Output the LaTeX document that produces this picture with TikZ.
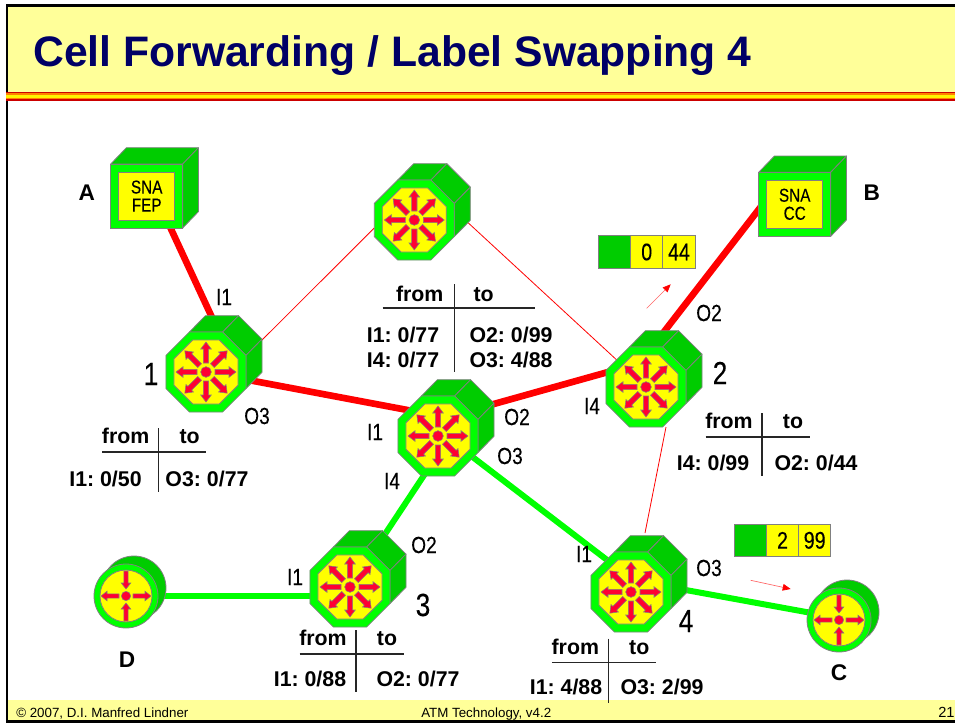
\documentclass[tikz,border=0pt]{standalone}
\usepackage{fontspec}
\setmainfont{Liberation Sans}
\newfontfamily\narrowfont[FakeStretch=0.82,FakeBold=0.15]{Liberation Sans}
\usetikzlibrary{shapes,arrows.meta,positioning,backgrounds}
\frenchspacing

\definecolor{bandyellow}{HTML}{FFFF99}
\definecolor{coreyellow}{HTML}{FFFF00}
\definecolor{titleblue}{HTML}{000066}
\definecolor{ringgreen}{HTML}{00FF00}
\definecolor{bodygreen}{HTML}{00CC00}
\definecolor{edgegray}{HTML}{808080}
\definecolor{spokered}{HTML}{FF0033}
\definecolor{barred}{HTML}{CC0000}
\definecolor{barorange}{HTML}{FF8000}
\definecolor{linkred}{HTML}{FF0000}

% octagon switch: name, x, y
\newcommand{\switchnode}[3]{
  \begin{scope}[shift={(#2,#3)}]
    \draw[face] (-16.6,-40) -- (16.6,-40) -- (32.6,-56.3) -- (-0.6,-56.3) -- cycle;
    \draw[face] (16.6,-40) -- (40,-16.6) -- (56,-32.9) -- (32.6,-56.3) -- cycle;
    \draw[face] (40,-16.6) -- (40,16.6) -- (56,0.3) -- (56,-32.9) -- cycle;
    \node[octring] (#1) at (0,0) {};
    \node[octcore] (#1core) at (0,0) {};
    \foreach \a in {0,45,...,315}
      \draw[spoke, rotate=\a] (9,-2.7) -- (23,-2.7) -- (23,-5.3) -- (30,0) -- (23,5.3) -- (23,2.7) -- (9,2.7) -- cycle;
    \node[hubdot] (#1hub) at (0,0) {};
  \end{scope}
}
% round end system: name, x, y
\newcommand{\stationnode}[3]{
  \begin{scope}[shift={(#2,#3)}]
    \node[stationback] (#1back) at (8,-8) {};
    \node[stationring] (#1) at (0,0) {};
    \node[stationcore] (#1core) at (0,0) {};
    \foreach \a in {0,180}
      \draw[spoke, rotate=\a] (7,-2.2) -- (19,-2.2) -- (19,-4.8) -- (25,0) -- (19,4.8) -- (19,2.2) -- (7,2.2) -- cycle;
    \foreach \a in {90,270}
      \draw[spoke, rotate=\a] (25,-2.2) -- (13,-2.2) -- (13,-4.8) -- (7,0) -- (13,4.8) -- (13,2.2) -- (25,2.2) -- cycle;
    \node[hubdot, minimum size=7pt] (#1hub) at (0,0) {};
  \end{scope}
}
% cube end system: name, x, y, text
\newcommand{\cubenode}[4]{
  \begin{scope}[shift={(#2,#3)}]
    \draw[face] (-36,-32) -- (36,-32) -- (51.7,-48.3) -- (-20.3,-48.3) -- cycle;
    \draw[face] (36,-32) -- (51.7,-48.3) -- (51.7,15.7) -- (36,32) -- cycle;
    \node[cubering] (#1) at (0,0) {};
    \node[cubecore] (#1core) at (0,0) {#4};
  \end{scope}
}
% from/to table head: name, x of bar, y of rule, length of bar below rule
\newcommand{\tablehead}[4]{
  \draw[rulebar] (#2-56.5,#3) -- (#2+47.5,#3);
  \draw[rulebar] (#2,#3-24) -- (#2,#3+#4);
  \node[tabletext] (#1from) at (#2-33,#3-8.7) {from};
  \node[tabletext] (#1to) at (#2+31,#3-8.7) {to};
}

\begin{document}
\begin{tikzpicture}[
    x=0.75pt, y=-0.75pt,
    face/.style={draw=edgegray, fill=bodygreen, line width=0.6pt, line join=round},
    octring/.style={regular polygon, regular polygon sides=8, draw=edgegray, fill=ringgreen, line width=0.6pt, inner sep=0pt, minimum size=65pt},
    octcore/.style={regular polygon, regular polygon sides=8, draw=edgegray, fill=coreyellow, line width=0.6pt, inner sep=0pt, minimum size=52pt},
    spoke/.style={draw=edgegray, fill=spokered, line width=0.4pt},
    hubdot/.style={circle, draw=edgegray, fill=spokered, line width=0.4pt, inner sep=0pt, minimum size=8pt},
    stationback/.style={circle, draw=edgegray, fill=bodygreen, line width=0.6pt, inner sep=0pt, minimum size=48pt},
    stationring/.style={circle, draw=edgegray, fill=ringgreen, line width=0.6pt, inner sep=0pt, minimum size=48pt},
    stationcore/.style={circle, draw=edgegray, fill=coreyellow, line width=0.6pt, inner sep=0pt, minimum size=39pt},
    cubering/.style={rectangle, draw=edgegray, fill=ringgreen, line width=0.6pt, inner sep=0pt, minimum width=54pt, minimum height=48pt},
    cubecore/.style={rectangle, draw=edgegray, fill=coreyellow, line width=0.6pt, inner sep=0pt, minimum width=42pt, minimum height=36pt, align=center, font=\narrowfont\fontsize{14}{13.5}\selectfont},
    labelcell/.style={rectangle, draw=edgegray, fill=coreyellow, line width=0.6pt, inner sep=0pt, minimum width=24.2pt, minimum height=24.2pt, font=\narrowfont\fontsize{18}{18}\selectfont},
    redlink/.style={linkred, line width=5pt},
    greenlink/.style={ringgreen, line width=4.5pt},
    thinlink/.style={linkred, line width=0.6pt},
    flow/.style={linkred!60, line width=0.5pt, -{Triangle[length=6pt, width=5pt, color=linkred, fill=linkred]}},
    rulebar/.style={black!85, line width=0.8pt},
    tabletext/.style={anchor=base, inner sep=0pt, font=\bfseries\fontsize{16}{16}\selectfont},
    port/.style={inner sep=0pt, font=\narrowfont\fontsize{17.5}{17.5}\selectfont},
    router/.style={inner sep=0pt, font=\narrowfont\fontsize{24}{24}\selectfont},
    system/.style={inner sep=0pt, font=\bfseries\fontsize{17}{17}\selectfont},
    foot/.style={anchor=base west, inner sep=0pt, font=\fontsize{10}{10}\selectfont}
]
    \useasboundingbox (0,0) rectangle (955,724);

    % Devices
    \switchnode{swtop}{414.3}{220}
    \switchnode{swa}{206}{372}
    \switchnode{swb}{646}{387}
    \switchnode{swc}{438}{436}
    \switchnode{swd}{350}{587}
    \switchnode{swe}{631}{592}
    \stationnode{stationd}{126}{596}
    \stationnode{stationc}{839}{620}
    \cubenode{cubea}{146.7}{196}{SNA\\FEP}
    \cubenode{cubeb}{794.7}{204.3}{SNA\\CC}

    % Links and slide frame
    \begin{scope}[on background layer]
        \fill[white] (0,0) rectangle (955,724);
        \fill[bandyellow] (7,5) rectangle (955,92);
        \fill[bandyellow] (7,700) rectangle (955,721);
        \draw[black, line width=1.6pt] (955,5.5) -- (7.3,5.5) -- (7.3,721.5) -- (955,721.5);
        \fill[barred] (6,92) rectangle (955,100.7);
        \fill[barorange] (6,93.4) rectangle (955,99.2);
        \fill[coreyellow!90!barorange] (6,95) rectangle (955,97.5);

        \draw[redlink] ([shift={(9,0)}]cubea.center) -- ([shift={(22,-20)}]swa.center);
        \draw[redlink] (swa.center) -- ([shift={(-20,-24)}]swc.center);
        \draw[redlink] ([shift={(20,-22)}]swc.center) -- ([shift={(-20,-20)}]swb.center);
        \draw[redlink] ([shift={(7,-41)}]swb.center) -- ([shift={(-25,-9)}]cubeb.center);
        \draw[thinlink] ([shift={(40,-16)}]swa.center) -- ([shift={(-40,8)}]swtop.center);
        \draw[thinlink] ([shift={(40,-10)}]swtop.center) -- (swb.center);
        \draw[thinlink] ([shift={(20,40)}]swb.center) -- ([shift={(14,-59)}]swe.center);
        \draw[greenlink] ([shift={(12,0)}]swc.center) -- (swd.center);
        \draw[greenlink] ([shift={(15,6)}]swc.center) -- ([shift={(-20,-29)}]swe.center);
        \draw[greenlink] (stationd.center) -- ([shift={(0,9)}]swd.center);
        \draw[greenlink] ([shift={(0,-12)}]swe.center) -- ([shift={(0,-2)}]stationc.center);
    \end{scope}

    % Title and footer
    \node[anchor=base west, inner sep=0pt, text=titleblue, font=\bfseries\fontsize{32}{32}\selectfont] (title) at (33,66) {Cell Forwarding / Label Swapping 4};
    \node[foot] (footleft) at (16,717) {\textcopyright{} 2007, D.I. Manfred Lindner};
    \node[foot] (footmid) at (421,717) {ATM Technology, v4.2};
    \node[foot, font=\fontsize{11}{11}\selectfont] (footpage) at (938,717) {21};

    % Cell labels
    \node[labelcell, fill=bodygreen] (celloa) at (614.5,252) {};
    \node[labelcell] (celloz) at (646.7,252) {0};
    \node[labelcell] (cellob) at (679,252) {44};
    \node[labelcell, fill=bodygreen] (cellta) at (750.3,540.3) {};
    \node[labelcell] (celltz) at (782.5,540.3) {2};
    \node[labelcell] (celltb) at (814.7,540.3) {99};

    % Flow arrows
    \coordinate (flowbs) at (646.7,308.3);
    \coordinate (flowbe) at (670.7,284.3);
    \coordinate (flowcs) at (750.7,580.3);
    \coordinate (flowce) at (790.7,589);
    \draw[flow] (flowbs) -- (flowbe);
    \draw[flow] (flowcs) -- (flowce);

    % Names
    \node[system] (nameA) at (86.7,193) {A};
    \node[system] (nameB) at (871.7,192.7) {B};
    \node[system] (nameC) at (839,673) {C};
    \node[system] (nameD) at (127,660) {D};
    \node[router] (numa) at (151,374) {1};
    \node[router] (numb) at (720,373) {2};
    \node[router] (numd) at (423,605) {3};
    \node[router] (nume) at (686,621) {4};

    % Ports
    \node[port] (pa) at (224,297) {I1};
    \node[port] (pb) at (257,416) {O3};
    \node[port] (pc) at (375,432) {I1};
    \node[port] (pd) at (517,417) {O2};
    \node[port] (pe) at (510,456) {O3};
    \node[port] (pf) at (392,481) {I4};
    \node[port] (pg) at (592,406) {I4};
    \node[port] (ph) at (709,313) {O2};
    \node[port] (pi) at (295,577) {I1};
    \node[port] (pj) at (424,545) {O2};
    \node[port] (pk) at (584,554) {I1};
    \node[port] (pl) at (709,568) {O3};

    % Tables
    \tablehead{ta}{158.7}{452}{40}
    \node[tabletext] (tarow) at (105.5,486) {I1: 0/50};
    \node[tabletext] (tarox) at (207,486) {O3: 0/77};

    \tablehead{tb}{762}{437}{39}
    \node[tabletext] (tbrow) at (713,470) {I4: 0/99};
    \node[tabletext] (tbrox) at (816,470) {O2: 0/44};

    \tablehead{td}{356}{654}{38}
    \node[tabletext] (tdrow) at (310,686) {I1: 0/88};
    \node[tabletext] (tdrox) at (418,686) {O2: 0/77};

    \tablehead{te}{608.3}{662.7}{40}
    \node[tabletext] (terow) at (566,694) {I1: 4/88};
    \node[tabletext] (terox) at (662,694) {O3: 2/99};

    \draw[rulebar] (382.7,308) -- (534.7,308);
    \draw[rulebar] (454.7,284) -- (454.7,372);
    \node[tabletext] (tcfrom) at (419.7,301.7) {from};
    \node[tabletext] (tcto) at (483.7,301.7) {to};
    \node[tabletext] (tcrow) at (403,342.3) {I1: 0/77};
    \node[tabletext] (tcrox) at (511,342.3) {O2: 0/99};
    \node[tabletext] (tcroy) at (403,367.7) {I4: 0/77};
    \node[tabletext] (tcroz) at (511,367.7) {O3: 4/88};
\end{tikzpicture}
\end{document}
